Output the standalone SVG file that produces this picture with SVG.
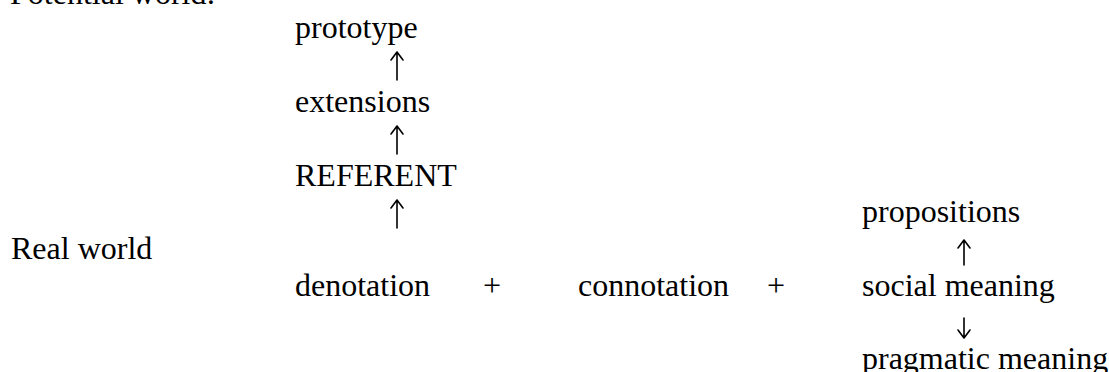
<svg xmlns="http://www.w3.org/2000/svg" width="1109" height="372" viewBox="0 0 1109 372">
<style>
.t{font-size:32px;fill:#000}
.arr{fill:none;stroke:#000;stroke-width:1.6;stroke-linecap:round;stroke-linejoin:round}
</style>
<rect width="1109" height="372" fill="#fff"/>
<g font-family="Liberation Serif, Times New Roman, serif" class="t">
<g id="potential-world"><text x="10" y="4">Potential world:</text></g>
<g id="prototype"><text x="295" y="38">prototype</text></g>
<g id="extensions"><text x="295" y="112">extensions</text></g>
<g id="referent"><text x="295" y="186">REFERENT</text></g>
<g id="real-world"><text x="11" y="259">Real world</text></g>
<g id="denotation"><text x="295" y="296">denotation</text></g>
<g id="plus1"><text x="483" y="296">+</text></g>
<g id="connotation"><text x="578" y="296">connotation</text></g>
<g id="plus2"><text x="767" y="296">+</text></g>
<g id="propositions"><text x="862" y="222">propositions</text></g>
<g id="social-meaning"><text x="862" y="296">social meaning</text></g>
<g id="pragmatic-meaning"><text x="862" y="369">pragmatic meaning</text></g>
</g>
<g id="connectors">
<path class="arr" d="M397,80V53M391,60L397,52L403,60"/>
<path class="arr" d="M397,154V127M391,134L397,126L403,134"/>
<path class="arr" d="M397,228V201M391,208L397,200L403,208"/>
<path class="arr" d="M964,265V241M958,248L964,240L970,248"/>
<path class="arr" d="M964,318V338M958,330L964,338L970,330"/>
</g>
</svg>
